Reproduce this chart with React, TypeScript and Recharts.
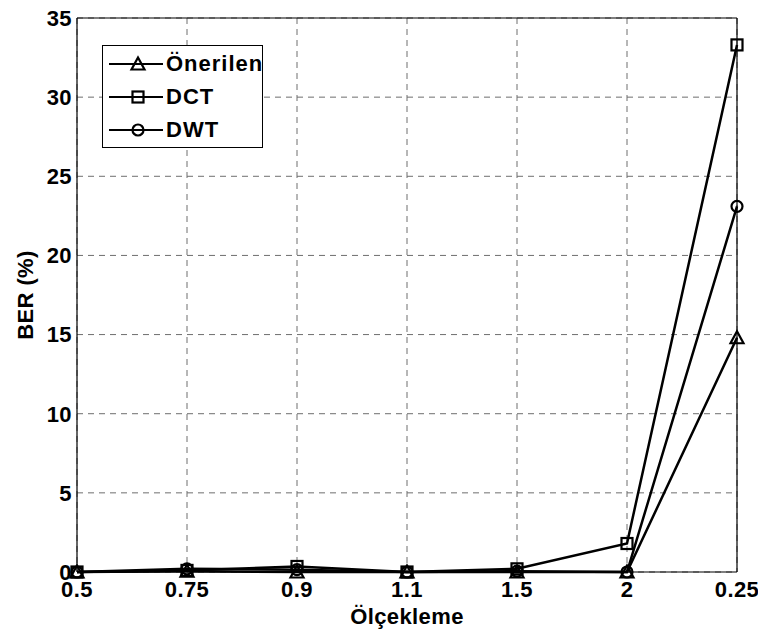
import React from 'react';
import { LineChart, Line, XAxis, YAxis, CartesianGrid, Label } from 'recharts';

const scales = ['0.5', '0.75', '0.9', '1.1', '1.5', '2', '0.25'];
const onerilen = [0, 0.05, 0, 0, 0, 0, 14.8];
const dct = [0, 0.1, 0.35, 0, 0.2, 1.8, 33.3];
const dwt = [0, 0.2, 0.15, 0, 0.05, 0, 23.1];
const yTicks = [0, 5, 10, 15, 20, 25, 30, 35];

const FONT = '"Liberation Sans", Arial, sans-serif';

const data = scales.map((s, i) => ({
  scale: s,
  onerilen: onerilen[i],
  dct: dct[i],
  dwt: dwt[i],
}));

type Shape = 'triangle' | 'square' | 'circle';

function Marker({ shape, cx, cy }: { shape: Shape; cx: number; cy: number }) {
  const common = { fill: 'none', stroke: '#000', strokeWidth: 2.2 };
  if (shape === 'triangle') {
    return (
      <polygon
        points={`${cx},${cy - 6.5} ${cx - 6.5},${cy + 5.5} ${cx + 6.5},${cy + 5.5}`}
        {...common}
      />
    );
  }
  if (shape === 'square') {
    return <rect x={cx - 5.5} y={cy - 5.5} width={11} height={11} {...common} />;
  }
  return <circle cx={cx} cy={cy} r={5.5} {...common} />;
}

const makeDot = (shape: Shape) => (props: any) => {
  const { cx, cy, index } = props;
  if (cx == null || cy == null) return <g key={index} />;
  return <Marker key={index} shape={shape} cx={cx} cy={cy} />;
};

const legendItems: { name: string; shape: Shape }[] = [
  { name: 'Önerilen', shape: 'triangle' },
  { name: 'DCT', shape: 'square' },
  { name: 'DWT', shape: 'circle' },
];

function LegendBox() {
  return (
    <div
      style={{
        position: 'absolute',
        left: 94,
        top: 37,
        width: 159,
        height: 101,
        border: '1px solid #000',
        background: '#fff',
      }}
    >
      {legendItems.map((it, i) => (
        <div
          key={it.name}
          style={{ position: 'absolute', left: 0, top: 3 + i * 33, height: 30, display: 'flex', alignItems: 'center' }}
        >
          <svg width={62} height={30}>
            <line x1={6} y1={15} x2={60} y2={15} stroke="#000" strokeWidth={2.2} />
            <Marker shape={it.shape} cx={35} cy={15} />
          </svg>
          <span
            style={{ fontFamily: FONT, fontWeight: 'bold', fontSize: 22, letterSpacing: 1, marginLeft: 1, color: '#000', lineHeight: '30px' }}
          >
            {it.name}
          </span>
        </div>
      ))}
    </div>
  );
}

const tickStyle = { fontFamily: FONT, fontWeight: 'bold', fontSize: 22, fill: '#000', letterSpacing: 0.4 };

export default function App() {
  return (
    <div style={{ position: 'relative', width: 750, height: 630, background: '#fff' }}>
      <LineChart
        width={750}
        height={630}
        data={data}
        margin={{ top: 9, right: 20, bottom: 0, left: 9 }}
      >
        <CartesianGrid stroke="#6e6e6e" strokeDasharray="6 5" strokeWidth={1} />
        <XAxis
          dataKey="scale"
          type="category"
          stroke="#000"
          strokeWidth={1.2}
          tickSize={0}
          tickMargin={9}
          tick={tickStyle}
          interval={0}
          height={66}
          padding={{ left: 0, right: 0 }}
        >
          <Label
            content={(p: any) => {
              const vb = p.viewBox || {};
              return (
                <text x={vb.x + vb.width / 2} y={616} textAnchor="middle" style={{ ...tickStyle }}>
                  Ölçekleme
                </text>
              );
            }}
          />
        </XAxis>
        <XAxis xAxisId="top" orientation="top" dataKey="scale" stroke="#000" strokeWidth={1.2} tick={false} tickLine={false} height={1} />
        <YAxis
          domain={[0, 35]}
          ticks={yTicks}
          stroke="#000"
          strokeWidth={1.2}
          width={60}
          tickSize={0}
          tickMargin={5}
          tick={tickStyle}
          interval={0}
        >
          <Label
            content={(p: any) => {
              const vb = p.viewBox || {};
              const cy = vb.y + vb.height / 2;
              return (
                <text
                  x={17}
                  y={cy}
                  transform={`rotate(-90 17 ${cy})`}
                  textAnchor="middle"
                  dominantBaseline="central"
                  style={{ ...tickStyle }}
                >
                  BER (%)
                </text>
              );
            }}
          />
        </YAxis>
        <YAxis yAxisId="right" orientation="right" domain={[0, 35]} stroke="#000" strokeWidth={1.2} tick={false} tickLine={false} width={1} />
        <Line dataKey="onerilen" name="Önerilen" stroke="#000" strokeWidth={2.5} dot={makeDot('triangle')} isAnimationActive={false} />
        <Line dataKey="dct" name="DCT" stroke="#000" strokeWidth={2.5} dot={makeDot('square')} isAnimationActive={false} />
        <Line dataKey="dwt" name="DWT" stroke="#000" strokeWidth={2.5} dot={makeDot('circle')} isAnimationActive={false} />
      </LineChart>
      <LegendBox />
    </div>
  );
}
